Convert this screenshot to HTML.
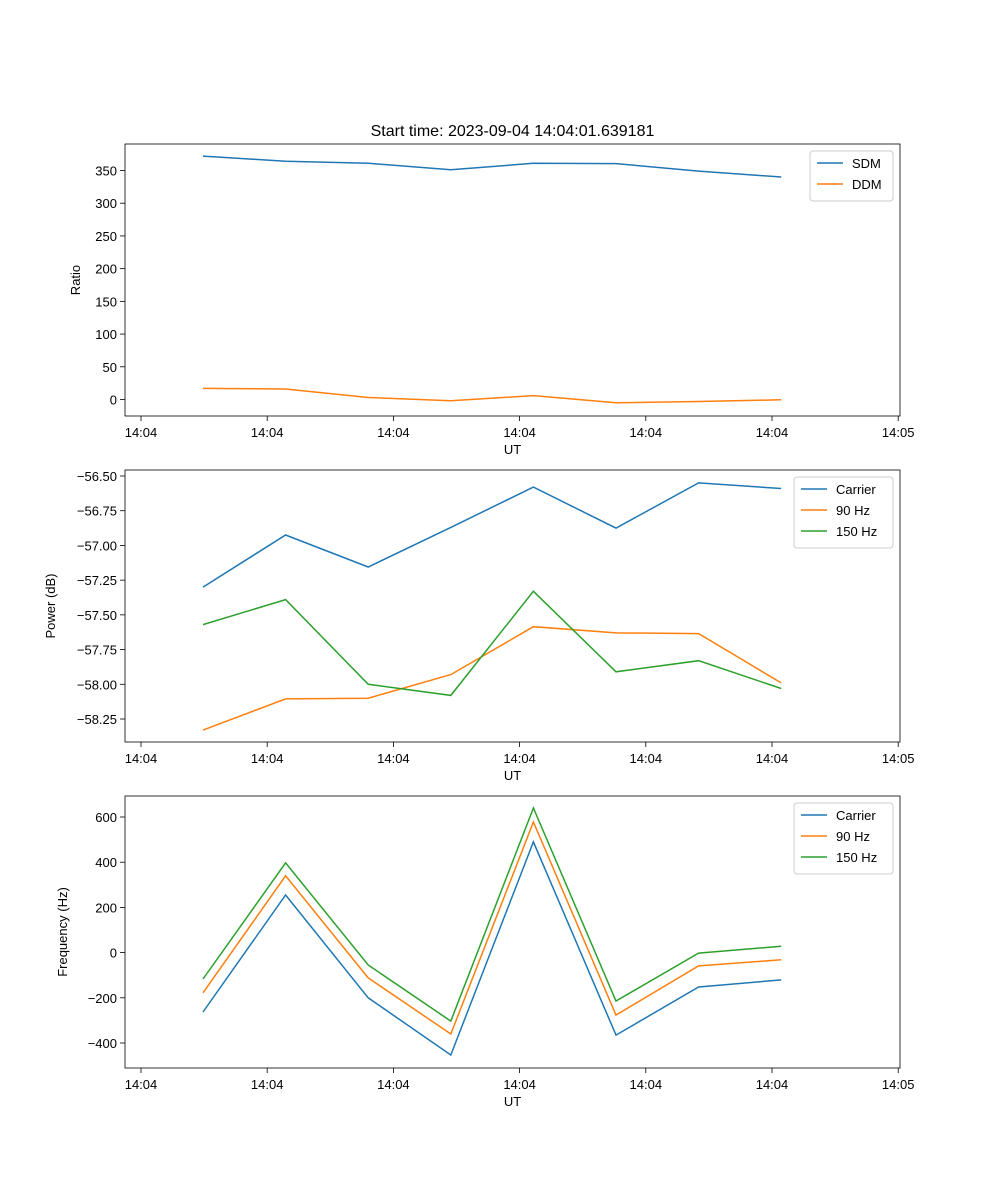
<!DOCTYPE html>
<html><head><meta charset="utf-8">
<style>body{margin:0;background:#fff}svg{display:block;font-family:"Liberation Sans","DejaVu Sans",sans-serif}</style>
</head><body>
<svg id="fig" width="1000" height="1200" xmlns="http://www.w3.org/2000/svg"></svg>
<script>
const times=[0.491,1.146,1.800,2.455,3.109,3.764,4.418,5.073];
const xTickVals=[0,1,2,3,4,5,6];
const xTickLabels=["14:04","14:04","14:04","14:04","14:04","14:04","14:05"];
const sdm=[372,364,361,351,361,360.5,349,340];
const ddm=[17,16,3,-2,6,-5,-3,-0.5];
const pCarrier=[-57.30,-56.925,-57.155,-56.87,-56.58,-56.875,-56.55,-56.59];
const p90=[-58.33,-58.105,-58.10,-57.93,-57.585,-57.63,-57.635,-57.99];
const p150=[-57.57,-57.39,-58.00,-58.08,-57.33,-57.91,-57.83,-58.03];
const fCarrier=[-263,255,-200,-453,490,-365,-152,-121];
const f90=[-178,340,-112,-360,578,-276,-59,-32];
const f150=[-117,397,-55,-303,640,-214,-2,28];
const ratioTicks=[0,50,100,150,200,250,300,350];
const powerTicks=[-58.25,-58.00,-57.75,-57.50,-57.25,-57.00,-56.75,-56.50];
const freqTicks=[-400,-200,0,200,400,600];

const NS="http://www.w3.org/2000/svg";
const svg=document.getElementById('fig');
function el(t,a,p){const e=document.createElementNS(NS,t);for(const k in a)e.setAttribute(k,a[k]);(p||svg).appendChild(e);return e;}
const X0=125,X1=900;
const xs=t=>141+t*126.2;
const C=["#1f77b4","#ff7f0e","#2ca02c"];

function panel(name,top,bot,y,ticks,fmt,ylabel,series,names,legW){
  const g=el('g',{});
  
  
  xTickVals.forEach((v,i)=>{const x=xs(v);
    el('line',{x1:x,x2:x,y1:bot,y2:bot+5,stroke:'#000','stroke-width':0.8},g);
    const t=el('text',{x:x,y:bot+21,'text-anchor':'middle','font-size':13},g);t.textContent=xTickLabels[i];
    });
  ticks.forEach(v=>{const yy=y(v);
    el('line',{x1:X0-5,x2:X0,y1:yy,y2:yy,stroke:'#000','stroke-width':0.8},g);
    const t=el('text',{x:X0-8,y:yy+5,'text-anchor':'end','font-size':13},g);t.textContent=fmt(v);
    });
  const xl=el('text',{x:(X0+X1)/2,y:bot+38,'text-anchor':'middle','font-size':13},g);xl.textContent='UT';
  
  const ylx=name==='ratio'?80:name==='power'?55:67;
  const yl=el('text',{x:ylx,y:(top+bot)/2,'text-anchor':'middle','font-size':13,transform:`rotate(-90 ${ylx} ${(top+bot)/2})`},g);yl.textContent=ylabel;
  
  series.forEach((s,i)=>{
    const pts=s.map((v,j)=>xs(times[j]).toFixed(1)+','+y(v).toFixed(1)).join(' ');
    const pl=el('polyline',{points:pts,fill:'none',stroke:C[i],'stroke-width':1.5},g);
    
    
  });
  const r=el('rect',{x:X0,y:top,width:X1-X0,height:bot-top,fill:'none',stroke:'#000','stroke-width':0.8},g);
  
  const lx=X1-7-legW,ly=top+7,lh=names.length*21+8;
  const lg=el('g',{},g);
  
  el('rect',{x:lx,y:ly,width:legW,height:lh,rx:3,fill:'#fff',stroke:'#ccc','stroke-width':1},lg);
  names.forEach((n,i)=>{const yy=ly+12+i*21;
    el('line',{x1:lx+7,x2:lx+33,y1:yy,y2:yy,stroke:C[i],'stroke-width':1.5},lg);
    const t=el('text',{x:lx+42,y:yy+5,'font-size':13},lg);t.textContent=n;
    });
}
panel('ratio',144,416,v=>399.5-v*0.6543,ratioTicks,v=>String(v),'Ratio',[sdm,ddm],['SDM','DDM'],83);
panel('power',470,742,v=>476-(v+56.5)*138.86,powerTicks,v=>(v<0?'\u2212':'')+Math.abs(v).toFixed(2),'Power (dB)',[pCarrier,p90,p150],['Carrier','90 Hz','150 Hz'],99);
panel('freq',796,1068,v=>952.6-v*0.226,freqTicks,v=>(v<0?'\u2212':'')+Math.abs(v),'Frequency (Hz)',[fCarrier,f90,f150],['Carrier','90 Hz','150 Hz'],99);
const title=el('text',{x:512.5,y:136,'text-anchor':'middle','font-size':16});
title.textContent='Start time: 2023-09-04 14:04:01.639181';


</script>
</body></html>
